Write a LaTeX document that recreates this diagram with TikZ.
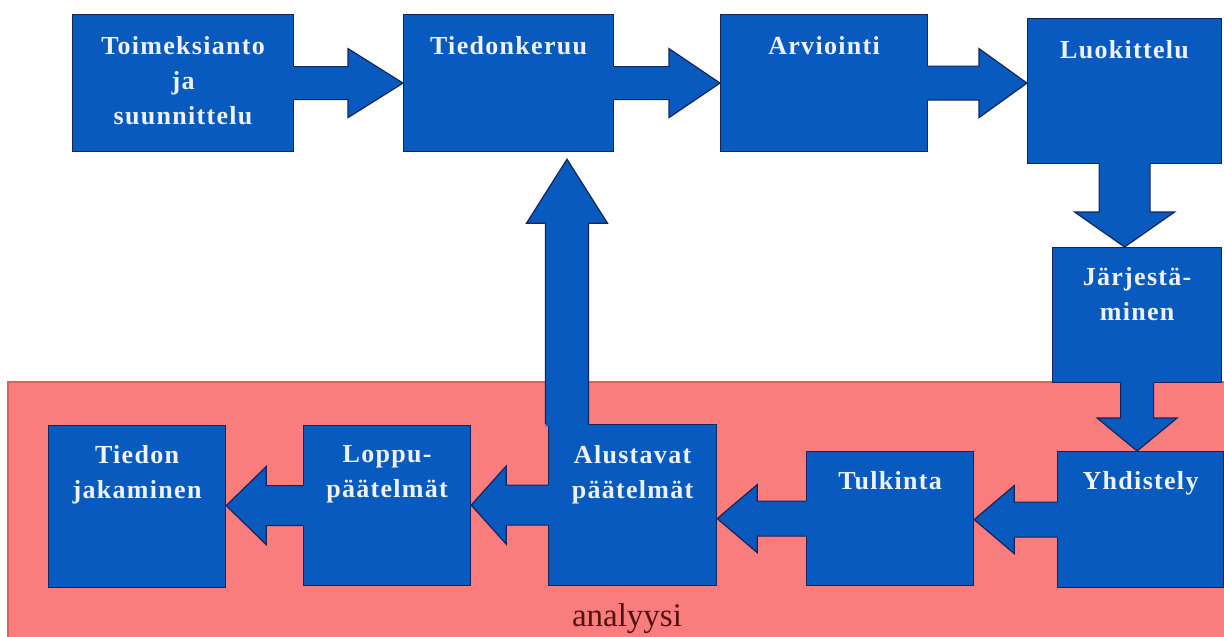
\documentclass[tikz,border=0pt]{standalone}
\usepackage{fontspec}
\setmainfont{Liberation Serif}
\newfontfamily\boxfont[LetterSpace=5]{Liberation Serif}
\usetikzlibrary{calc,positioning}

\definecolor{boxblue}{RGB}{8,90,190}
\definecolor{boxline}{RGB}{22,36,92}
\definecolor{analpink}{RGB}{250,125,125}
\definecolor{analedge}{RGB}{225,95,95}
\definecolor{labeltext}{RGB}{238,242,255}
\definecolor{analtext}{RGB}{80,18,18}

% fat block arrow: shaft half width, head half width, head length, from, to
\newcommand{\fatarrow}[5]{%
  \coordinate (sb) at ($(#4)!-2pt!(#5)$);
  \coordinate (hb) at ($(#5)!#3!(#4)$);
  \fill[boxblue] ($(sb)!#1!90:(#5)$) -- ($(hb)!#1!90:(#5)$) -- ($(hb)!#2!90:(#5)$) -- (#5)
    -- ($(hb)!#2!-90:(#5)$) -- ($(hb)!#1!-90:(#5)$) -- ($(sb)!#1!-90:(#5)$) -- cycle;
  \draw[arrowline] ($(#4)!#1!90:(#5)$) -- ($(hb)!#1!90:(#5)$) -- ($(hb)!#2!90:(#5)$) -- (#5)
    -- ($(hb)!#2!-90:(#5)$) -- ($(hb)!#1!-90:(#5)$) -- ($(#4)!#1!-90:(#5)$);
}

\begin{document}
\begin{tikzpicture}[x=1pt,y=-1pt,
    stage/.style={rectangle, draw=boxline, line width=1.2pt, fill=boxblue,
                  inner sep=0pt, anchor=north west},
    boxtext/.style={font=\boxfont\bfseries\fontsize{26}{35}\selectfont,
                    text=labeltext, align=center, inner sep=0pt},
    arrowline/.style={draw=boxline, line width=1.2pt, line join=miter}]

  \useasboundingbox (0,0) rectangle (1224,637);

  % analysis area
  \fill[analpink] (8,382) rectangle (1224,637);
  \draw[analedge, line width=1.5pt] (8,637) -- (8,382) -- (1224,382);
  \node[font=\fontsize{33}{36}\selectfont, text=analtext, anchor=base] (anal) at (627,626) {analyysi};

  % stages
  \node[stage, minimum width=221pt, minimum height=137pt] (toim) at (72,14) {};
  \node[stage, minimum width=210pt, minimum height=137pt] (tied) at (403,14) {};
  \node[stage, minimum width=207pt, minimum height=137pt] (arvi) at (720,14) {};
  \node[stage, minimum width=194pt, minimum height=145pt] (luok) at (1027,18) {};
  \node[stage, minimum width=169pt, minimum height=135pt] (jarj) at (1052,247) {};
  \node[stage, minimum width=166pt, minimum height=136pt] (yhd)  at (1057,451) {};
  \node[stage, minimum width=167pt, minimum height=134pt] (tulk) at (806,451) {};
  \node[stage, minimum width=168pt, minimum height=161pt] (alus) at (548,424) {};
  \node[stage, minimum width=167pt, minimum height=160pt] (lopp) at (303,425) {};
  \node[stage, minimum width=177pt, minimum height=162pt] (tidj) at (48,425) {};

  \node[boxtext, below=22pt of toim.north] (toim-t) {Toimeksianto\\ja\\suunnittelu};
  \node[boxtext, below=22pt of tied.north] (tied-t) {Tiedonkeruu};
  \node[boxtext, below=22pt of arvi.north] (arvi-t) {Arviointi};
  \node[boxtext, below=22pt of luok.north] (luok-t) {Luokittelu};
  \node[boxtext, below=20pt of jarj.north] (jarj-t) {Järjestä-\\minen};
  \node[boxtext, below=20pt of yhd.north]  (yhd-t)  {Yhdistely};
  \node[boxtext, below=20pt of tulk.north] (tulk-t) {Tulkinta};
  \node[boxtext, below=21pt of alus.north] (alus-t) {Alustavat\\päätelmät};
  \node[boxtext, below=20pt of lopp.north] (lopp-t) {Loppu-\\päätelmät};
  \node[boxtext, below=20pt of tidj.north] (tidj-t) {Tiedon\\jakaminen};

  % arrow ends
  \coordinate (a2l) at (arvi.east -| luok.west);
  \coordinate (l2j) at (luok.south |- jarj.north);
  \coordinate (j2y) at (jarj.south |- yhd.north);
  \coordinate (y2t) at (yhd.west -| tulk.east);
  \coordinate (t2a) at (tulk.west -| alus.east);
  \coordinate (a2l2) at (alus.west -| lopp.east);
  \coordinate (l2t) at (lopp.west -| tidj.east);
  \coordinate (a2t) at ($(alus.north west)+(19,0)$);
  \coordinate (a2tip) at ($(a2t |- tied.south)+(0,7)$);

  \fatarrow{16.5pt}{34.5pt}{55pt}{toim.east}{tied.west}
  \fatarrow{16.5pt}{34.5pt}{51pt}{tied.east}{arvi.west}
  \fatarrow{17pt}{34.5pt}{48pt}{arvi.east}{a2l}
  \fatarrow{25.5pt}{50pt}{35pt}{luok.south}{l2j}
  \fatarrow{16.5pt}{40pt}{33pt}{jarj.south}{j2y}
  \fatarrow{17.5pt}{34pt}{40pt}{yhd.west}{y2t}
  \fatarrow{17.5pt}{34pt}{40pt}{tulk.west}{t2a}
  \fatarrow{20pt}{39pt}{35pt}{alus.west}{a2l2}
  \fatarrow{20pt}{39pt}{40pt}{lopp.west}{l2t}
  \fatarrow{21.5pt}{40.5pt}{64pt}{a2t}{a2tip}
\end{tikzpicture}
\end{document}
